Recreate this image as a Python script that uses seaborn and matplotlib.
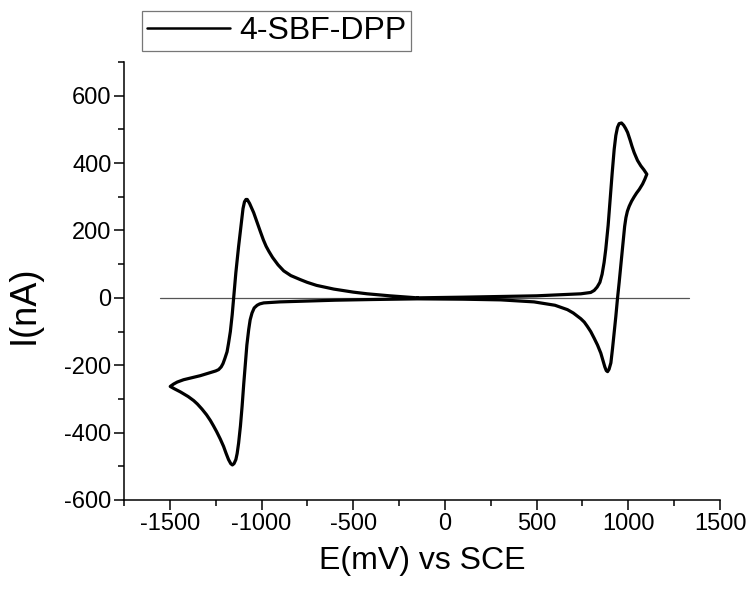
import matplotlib
matplotlib.use("Agg")
import matplotlib.pyplot as plt
import seaborn as sns
import pandas as pd
import numpy as np

# ---- data ----
forward_E = [-150, 100, 300, 500, 668, 741, 770, 795, 814, 830, 845, 857, 868, 877, 890, 901, 912, 923,
             932, 941, 950, 963, 975, 985, 996, 1010, 1020, 1032, 1050, 1068, 1085, 1101]
forward_I = [0, 2, 4, 6, 10, 12, 14, 16, 22, 32, 46, 70, 105, 144, 215, 292, 370, 441,
             482, 506, 517, 519, 512, 503, 491, 468, 450, 431, 408, 392, 380, 367]

reverse_E = [1090, 1078, 1060, 1045, 1032, 1018, 1005, 995, 987, 980, 974, 967, 959, 950, 941, 932, 923,
             914, 905, 895, 887, 880, 872, 865, 850, 832, 814, 795, 777, 760, 741, 700, 668, 600, 486,
             304, 100, -150, -400, -600, -788, -900, -988, -1010, -1024, -1040, -1052, -1062, -1070,
             -1080, -1088, -1097, -1106, -1115, -1125, -1133, -1140, -1150, -1159, -1168, -1180, -1193,
             -1207, -1225, -1245, -1262, -1279, -1300, -1325, -1350, -1370, -1400, -1443, -1475, -1498]
reverse_I = [352, 338, 322, 311, 300, 287, 272, 257, 238, 212, 180, 140, 94, 45, -2, -55, -104,
             -150, -193, -212, -219, -216, -205, -192, -164, -140, -120, -100, -85, -72, -62, -45, -35, -22, -12,
             -6, -4, -3, -5, -7, -10, -12, -15, -18, -22, -30, -45, -65, -94,
             -140, -193, -255, -322, -380, -431, -462, -480, -492, -496, -492, -480, -462,
             -441, -419, -397, -380, -364, -347, -330, -315, -305, -293, -279, -270, -263]

return_E = [-1480, -1460, -1425, -1380, -1334, -1280, -1250, -1234, -1220, -1210, -1200, -1193, -1188,
            -1180, -1170, -1160, -1152, -1140, -1125, -1112, -1101, -1093, -1085, -1078, -1065, -1055,
            -1043, -1025, -1006, -990, -975, -960, -940, -910, -879, -840, -788, -751, -700, -606, -500,
            -424, -300, -150]
return_I = [-256, -250, -243, -237, -231, -222, -217, -213, -205, -195, -180, -168, -160,
            -135, -100, -50, 0, 75, 153, 215, 265, 285, 292, 292, 280, 268,
            253, 225, 196, 172, 153, 138, 120, 98, 80, 66, 54, 46, 37, 26, 17,
            12, 6, 0]

baseline_E = [-1556, 1330]
baseline_I = [0, 0]

series_label = "4-SBF-DPP"
x_label = "E(mV) vs SCE"
y_label = "I(nA)"
x_ticks = [-1500, -1000, -500, 0, 500, 1000, 1500]
y_ticks = [-600, -400, -200, 0, 200, 400, 600]

# ---- table ----
E_all = forward_E + reverse_E + return_E
I_all = forward_I + reverse_I + return_I
df = pd.DataFrame({"E": E_all, "I": I_all, "order": np.arange(len(E_all))})

sns.set_style("ticks")
plt.rcParams["font.family"] = ["Liberation Sans", "DejaVu Sans"]
plt.rcParams["axes.unicode_minus"] = False
plt.rcParams["text.color"] = "black"
plt.rcParams["axes.labelcolor"] = "black"
plt.rcParams["xtick.color"] = "black"
plt.rcParams["ytick.color"] = "black"

fig = plt.figure(figsize=(7.49, 5.92), dpi=100)
ax = fig.add_axes([124 / 749, 1 - 500 / 592, (720 - 124) / 749, (500 - 62) / 592])

ax.plot(baseline_E, baseline_I, color="#555555", lw=0.9, zorder=1)
sns.lineplot(data=df, x="E", y="I", sort=False, estimator=None, color="black", lw=2.3,
             ax=ax, label=series_label, zorder=2)

ax.set_xlim(-1750, 1500)
ax.set_ylim(-600, 700)
ax.set_xticks(x_ticks)
ax.set_yticks(y_ticks)
ax.set_xticks(np.arange(-1750, 1501, 250), minor=True)
ax.set_yticks(np.arange(-600, 701, 100), minor=True)
ax.tick_params(axis="both", which="major", direction="out", length=7, width=1.1,
               labelsize=17, pad=2, color="black", labelcolor="black")
ax.tick_params(axis="both", which="minor", direction="out", length=4, width=1.1, color="black")

for s in ["top", "right"]:
    ax.spines[s].set_visible(False)
for s in ["left", "bottom"]:
    ax.spines[s].set_linewidth(1.1)
    ax.spines[s].set_color("black")

ax.set_xlabel(x_label, fontsize=23, labelpad=8, color="black")
ax.set_ylabel(y_label, fontsize=26, color="black", va="center")
ax.yaxis.set_label_coords(-0.168, 0.445)

leg = ax.legend(loc="upper left", bbox_to_anchor=(142 / 749, 1 - 11 / 592),
                bbox_transform=fig.transFigure, fontsize=23, frameon=True, fancybox=False,
                handlelength=2.6, handletextpad=0.3, borderpad=0.15, borderaxespad=0)
leg.get_frame().set_edgecolor("#555555")
leg.get_frame().set_linewidth(0.9)
for t in leg.get_texts():
    t.set_color("black")
for h in leg.get_lines():
    h.set_linewidth(1.8)

fig.savefig("out.png", dpi=100)
